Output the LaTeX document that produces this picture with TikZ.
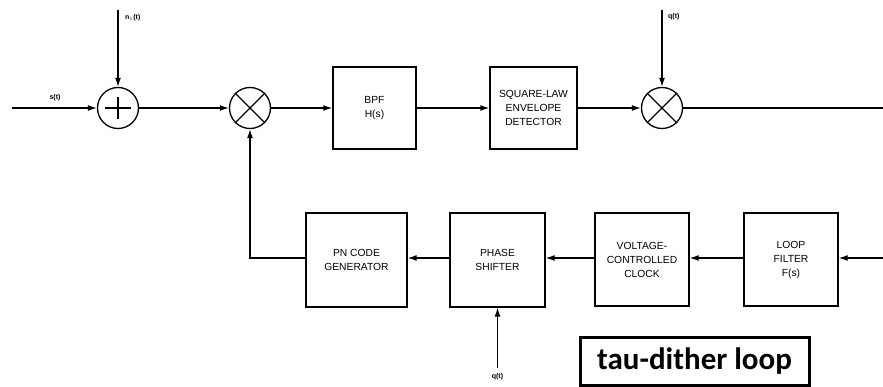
\documentclass[tikz,border=0pt]{standalone}
\usepackage{fontspec}
\setmainfont{Liberation Sans}
\newfontfamily\calib{Carlito}
\usetikzlibrary{arrows.meta}
\tikzset{
  wire/.style={line width=1.3pt,-{Latex[length=9pt,width=6pt]}},
  plain/.style={line width=1.3pt},
  blk/.style={draw,line width=1.3pt,align=center,font=\fontsize{10.3}{14}\selectfont,inner sep=0pt},
  sumnode/.style={draw,circle,line width=1.3pt,minimum size=41pt,inner sep=0pt},
  lbl/.style={font=\bfseries\fontsize{7}{8}\selectfont,inner sep=1pt}
}
\begin{document}
\begin{tikzpicture}[x=1pt,y=-1pt]
\useasboundingbox (0,0) rectangle (883,387);
% top row
\coordinate (sin) at (12,108);
\coordinate (nin) at (118,10);
\node[sumnode] (add) at (118,108) {};
\draw[plain] ([xshift=-13pt]add.center) -- ([xshift=13pt]add.center);
\draw[plain] ([yshift=-11pt]add.center) -- ([yshift=11pt]add.center);
\node[sumnode] (m1) at (250,108) {};
\draw[plain] (m1.north east) -- (m1.south west);
\draw[plain] (m1.north west) -- (m1.south east);
\node[blk,minimum width=83pt,minimum height=82pt] (bpf) at (374.5,108) {BPF\\H(s)};
\node[blk,minimum width=87pt,minimum height=82pt] (sq) at (533.5,108) {SQUARE-LAW\\ENVELOPE\\DETECTOR};
\node[sumnode] (m2) at (662,108) {};
\draw[plain] (m2.north east) -- (m2.south west);
\draw[plain] (m2.north west) -- (m2.south east);
\coordinate (qin) at (662,10);
\coordinate (out) at (883,108);
% bottom row
\node[blk,minimum width=101pt,minimum height=94pt] (pn) at (356.5,260) {PN CODE\\GENERATOR};
\node[blk,minimum width=95pt,minimum height=94pt] (ps) at (497.5,260) {PHASE\\SHIFTER};
\node[blk,minimum width=94pt,minimum height=93pt] (vcc) at (642,259.5) {VOLTAGE-\\CONTROLLED\\CLOCK};
\node[blk,minimum width=94pt,minimum height=93pt] (lf) at (791,259.5) {LOOP\\FILTER\\F(s)};
\coordinate (lin) at (883,258);
\coordinate (qps) at (497.5,368);
% labels
\node[lbl] (slab) at (55,98) {s(t)};
\node[lbl,anchor=west] (nlab) at (124,18) {n$_1$(t)};
\node[lbl,anchor=west] (qlab) at (667,17) {q(t)};
\node[lbl] (qlab2) at (497.5,377) {q(t)};
% connectors
\draw[wire] (sin) -- (add);
\draw[wire] (nin) -- (add);
\draw[wire] (add) -- (m1);
\draw[wire] (m1) -- (bpf);
\draw[wire] (bpf) -- (sq);
\draw[wire] (sq) -- (m2);
\draw[wire] (qin) -- (m2);
\draw[plain] (m2) -- (out);
\draw[wire] (lin) -- (lf.east |- lin);
\draw[wire] (lf.west |- lin) -- (vcc.east |- lin);
\draw[wire] (vcc.west |- lin) -- (ps.east |- lin);
\draw[wire] (ps.west |- lin) -- (pn.east |- lin);
\draw[wire] (pn.west |- lin) -| (m1.south);
\draw[wire] (qps) -- (ps.south);
% tau-dither box
\node[draw,line width=3pt,minimum width=229pt,minimum height=48pt,inner sep=0pt,font=\calib\bfseries\fontsize{31}{34}\selectfont] (tau) at (694.5,361) {tau-dither loop};
\end{tikzpicture}
\end{document}
